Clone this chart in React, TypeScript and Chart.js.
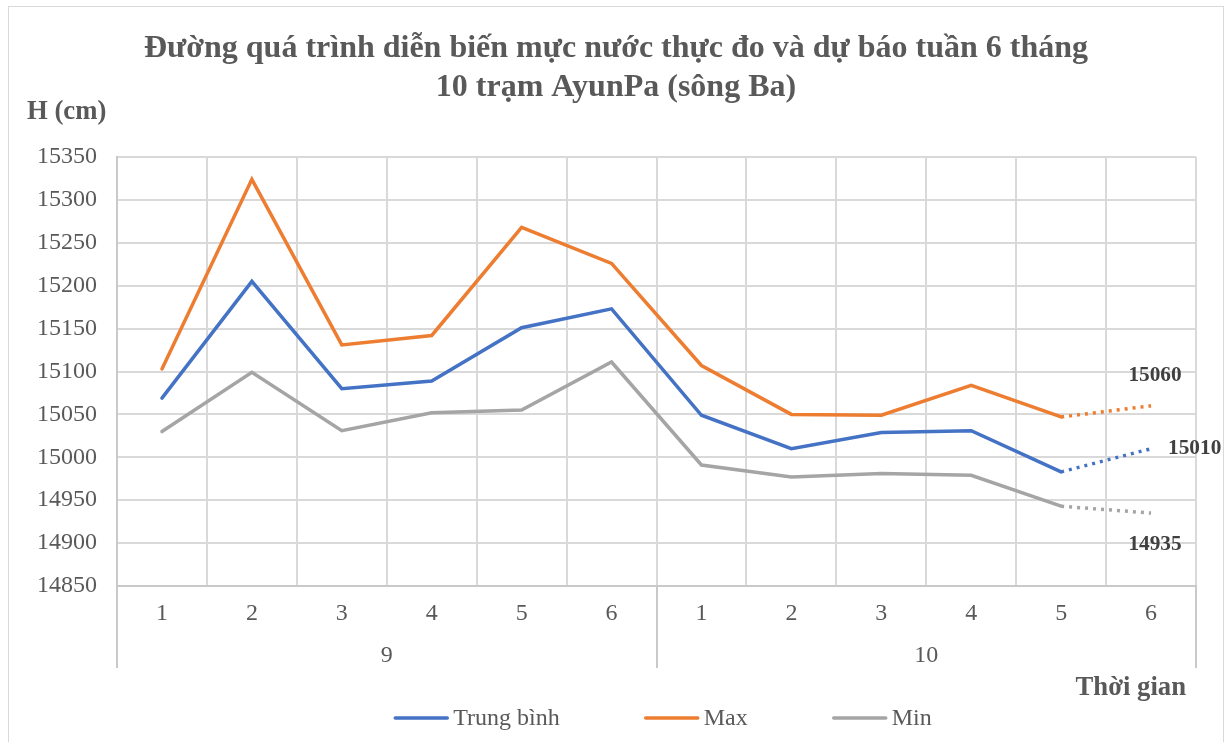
import React, { useEffect, useRef } from "react";
import { Chart, registerables } from "chart.js";

Chart.register(...registerables);

// ---------- data ----------
const weekLabels = ["1", "2", "3", "4", "5", "6", "1", "2", "3", "4", "5", "6"];
const monthLabels = ["9", "10"];
const monthSpans = [6, 6];
const trungBinh = [15069, 15205, 15080, 15089, 15151, 15173, 15049, 15010, 15029, 15031, 14983, 15010];
const maxVals = [15103, 15324, 15131, 15142, 15268, 15226, 15107, 15050, 15049, 15084, 15047, 15060];
const minVals = [15030, 15099, 15031, 15052, 15055, 15111, 14991, 14977, 14981, 14979, 14943, 14935];
const seriesNames = ["Trung bình", "Max", "Min"];
const seriesColors = ["#4472C4", "#ED7D31", "#A5A5A5"];
const labelPlacement = ["right", "top", "bottom"];
const forecastStart = 10; // segment from index 10 to 11 is forecast (dotted)
const yMin = 14850;
const yMax = 15350;
const yStep = 50;
const titleLines = [
  "Đường quá trình diễn biến mực nước thực đo và dự báo tuần 6 tháng",
  "10 trạm AyunPa (sông Ba)",
];
const yTitle = "H (cm)";
const xTitle = "Thời gian";

const SERIF = "'Liberation Serif', 'Times New Roman', serif";
const TEXT = "#595959";
const W = 1214;
const H = 735;

const overlay = {
  id: "overlay",
  afterDraw(chart: any) {
    const ctx = chart.ctx as CanvasRenderingContext2D;
    const xs = chart.scales.x;
    const area = chart.chartArea;
    ctx.save();

    // Title
    ctx.fillStyle = TEXT;
    ctx.font = `bold 32px ${SERIF}`;
    ctx.textAlign = "center";
    ctx.textBaseline = "alphabetic";
    ctx.fillText(titleLines[0], W / 2, 50);
    ctx.fillText(titleLines[1], W / 2, 89);

    // Axis titles
    ctx.font = `bold 26.7px ${SERIF}`;
    ctx.textAlign = "left";
    ctx.fillText(yTitle, 18, 112);
    ctx.textAlign = "right";
    ctx.fillText(xTitle, 1177, 688);

    // Inner (week) labels
    ctx.font = `24px ${SERIF}`;
    ctx.textAlign = "center";
    ctx.textBaseline = "middle";
    ctx.fillStyle = TEXT;
    weekLabels.forEach((lab, i) => {
      ctx.fillText(lab, xs.getPixelForValue(i), area.bottom + 28);
    });

    // Group separators and outer (month) labels
    const half = (xs.getPixelForValue(1) - xs.getPixelForValue(0)) / 2;
    ctx.strokeStyle = "#c9c9c9";
    ctx.lineWidth = 2;
    let idx = 0;
    const bounds: number[] = [xs.getPixelForValue(0) - half];
    monthSpans.forEach((span, g) => {
      const start = xs.getPixelForValue(idx) - half;
      const end = xs.getPixelForValue(idx + span - 1) + half;
      bounds.push(end);
      ctx.fillText(monthLabels[g], (start + end) / 2, area.bottom + 70);
      idx += span;
    });
    bounds.forEach((bx) => {
      const x = Math.round(bx);
      ctx.beginPath();
      ctx.moveTo(x, area.bottom);
      ctx.lineTo(x, area.bottom + 82);
      ctx.stroke();
    });

    // Data labels on the last (forecast) point
    ctx.font = `bold 21.3px ${SERIF}`;
    ctx.fillStyle = "#404040";
    chart.data.datasets.forEach((ds: any, d: number) => {
      const meta = chart.getDatasetMeta(d);
      const pt = meta.data[meta.data.length - 1];
      const val = ds.data[ds.data.length - 1];
      const place = labelPlacement[d];
      ctx.textBaseline = "middle";
      if (place === "right") {
        ctx.textAlign = "left";
        ctx.fillText(String(val), pt.x + 17, pt.y);
      } else if (place === "top") {
        ctx.textAlign = "center";
        ctx.fillText(String(val), pt.x + 4, pt.y - 30);
      } else {
        ctx.textAlign = "center";
        ctx.fillText(String(val), pt.x + 4, pt.y + 31);
      }
    });

    // Legend
    ctx.font = `24px ${SERIF}`;
    ctx.textBaseline = "middle";
    ctx.textAlign = "left";
    const lineLen = 54;
    const gapText = 5;
    const gapItem = 85;
    const widths = seriesNames.map((n) => lineLen + gapText + ctx.measureText(n).width);
    const total = widths.reduce((a, b) => a + b, 0) + gapItem * (seriesNames.length - 1);
    let lx = 654 - total / 2;
    const ly = 711;
    seriesNames.forEach((n, i) => {
      ctx.strokeStyle = seriesColors[i];
      ctx.lineWidth = 3.5;
      ctx.lineCap = "round";
      ctx.beginPath();
      ctx.moveTo(lx + 1, ly);
      ctx.lineTo(lx + lineLen - 1, ly);
      ctx.stroke();
      ctx.fillStyle = TEXT;
      ctx.fillText(n, lx + lineLen + gapText, ly + 1);
      lx += widths[i] + gapItem;
    });

    ctx.restore();
  },
};

export default function App() {
  const ref = useRef<HTMLCanvasElement | null>(null);

  useEffect(() => {
    if (!ref.current) return;
    const series = [trungBinh, maxVals, minVals];
    const chart = new Chart(ref.current, {
      type: "line",
      data: {
        labels: weekLabels.map((w, i) => `${i}`),
        datasets: series.map((vals, i) => ({
          label: seriesNames[i],
          data: vals,
          borderColor: seriesColors[i],
          backgroundColor: seriesColors[i],
          borderWidth: 3.5,
          pointRadius: 0,
          pointHoverRadius: 0,
          tension: 0,
          fill: false,
          borderCapStyle: "round",
          borderJoinStyle: "miter",
          segment: {
            borderDash: (c: any) => (c.p0DataIndex >= forecastStart ? [3, 5] : undefined),
            borderCapStyle: (c: any) => (c.p0DataIndex >= forecastStart ? "butt" : "round"),
          },
        })),
      },
      options: {
        responsive: false,
        animation: false,
        events: [],
        layout: { padding: { left: 0, top: 150, right: 27, bottom: 0 } },
        plugins: {
          legend: { display: false },
          title: { display: false },
          tooltip: { enabled: false },
        },
        scales: {
          x: {
            type: "category",
            offset: true,
            grid: {
              offset: true,
              color: "#d9d9d9",
              lineWidth: 2,
              drawTicks: false,
            },
            border: { display: true, color: "#c9c9c9", width: 2 },
            ticks: { display: false },
            afterFit: (s: any) => {
              s.height = 156;
            },
          },
          y: {
            min: yMin,
            max: yMax,
            grid: { color: "#d9d9d9", lineWidth: 2, drawTicks: false },
            border: { display: true, color: "#c9c9c9", width: 2 },
            ticks: {
              stepSize: yStep,
              padding: 20,
              color: TEXT,
              font: { family: SERIF, size: 24 },
              callback: (v: any) => String(v),
            },
            afterFit: (s: any) => {
              s.width = 108;
            },
          },
        },
      },
      plugins: [overlay],
    });
    return () => chart.destroy();
  }, []);

  return (
    <div
      style={{
        position: "absolute",
        left: 8,
        top: 6,
        width: 1216,
        height: 736,
        boxSizing: "border-box",
        border: "1px solid #d9d9d9",
        borderBottom: "none",
        background: "#fff",
        overflow: "hidden",
      }}
    >
      <canvas ref={ref} width={W} height={H} style={{ display: "block", width: W, height: H }} />
    </div>
  );
}
